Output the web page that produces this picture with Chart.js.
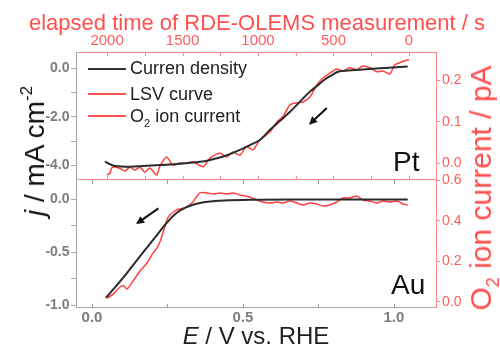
<!DOCTYPE html>
<html><head><meta charset="utf-8">
<script src="https://cdn.jsdelivr.net/npm/chart.js@4/dist/chart.umd.min.js"></script>
<style>
html,body{margin:0;padding:0;background:#fff;}
#wrap{position:relative;width:500px;height:352px;overflow:hidden;font-family:"Liberation Sans",Arial,sans-serif;}
canvas{position:absolute;left:0;top:0;}
.t{position:absolute;white-space:nowrap;line-height:1;}
.rot{transform:translate(-50%,-50%) rotate(-90deg);}
.lg{position:absolute;height:2px;width:38px;left:88px;}
</style></head><body>
<div id="wrap">
<canvas id="c1" width="500" height="352"></canvas>
<canvas id="c2" width="500" height="352"></canvas>
<div class="t" style="left:257px;top:23px;transform:translate(-50%,-50%);font-size:22px;color:#ff5050;">elapsed time of RDE-OLEMS measurement / s</div>
<div class="t rot" style="left:35px;top:151px;font-size:28px;color:#111;"><i>j</i> / mA cm<span style="font-size:17px;position:relative;top:-12px;">-2</span></div>
<div class="t rot" style="left:481px;top:188px;font-size:30px;color:#ff4d4d;">O<span style="font-size:18px;position:relative;top:8px;">2</span> ion current / pA</div>
<div class="t" style="left:256px;top:336px;transform:translate(-50%,-50%);font-size:24px;color:#222;"><i>E</i> / V vs. RHE</div>
<div class="t" style="left:393px;top:148px;font-size:28px;color:#111;">Pt</div>
<div class="t" style="left:391px;top:271px;font-size:28px;color:#111;">Au</div>
<div class="lg" style="top:68px;background:#333;"></div>
<div class="lg" style="top:93px;background:#ff5050;"></div>
<div class="lg" style="top:115px;background:#ff5050;"></div>
<div class="t" style="left:130px;top:59px;font-size:18px;color:#222;">Curren density</div>
<div class="t" style="left:130px;top:85px;font-size:18px;color:#222;">LSV curve</div>
<div class="t" style="left:130px;top:107px;font-size:18px;color:#222;">O<span style="font-size:11px;position:relative;top:5px;">2</span> ion current</div>
</div>
<script>
// ---------- data ----------
// Pt: current density (black, left axis)
const ptE_j = [0.043,0.076,0.126,0.170,0.225,0.291,0.358,0.391,0.442,0.490,0.523,0.556,0.589,0.623,0.656,0.689,0.722,0.745,0.772,0.795,0.815,0.850,0.887,0.930,0.970,1.046];
const ptJ   = [-3.84,-4.02,-4.05,-4.02,-3.98,-3.93,-3.85,-3.77,-3.60,-3.36,-3.16,-2.95,-2.54,-2.16,-1.79,-1.37,-0.96,-0.73,-0.45,-0.28,-0.14,-0.09,-0.06,-0.02,0.01,0.07];
// Pt: O2 ion current (red, right axis)
const ptE_i = [0.049,0.060,0.065,0.082,0.098,0.109,0.126,0.142,0.159,0.175,0.192,0.214,0.225,0.247,0.268,0.291,0.314,0.334,0.368,0.391,0.424,0.446,0.467,0.490,0.512,0.533,0.556,0.589,0.613,0.632,0.656,0.679,0.699,0.722,0.745,0.765,0.788,0.811,0.831,0.854,0.877,0.897,0.921,0.944,0.964,0.987,1.003,1.020,1.036,1.050];
const ptI   = [-0.029,-0.024,-0.012,-0.010,-0.015,-0.019,-0.010,-0.017,-0.010,-0.022,-0.012,-0.029,-0.007,0.015,-0.005,0.000,0.000,0.003,-0.009,0.012,0.024,0.015,0.027,0.019,0.040,0.032,0.056,0.075,0.100,0.112,0.141,0.146,0.148,0.160,0.189,0.206,0.218,0.228,0.223,0.231,0.226,0.235,0.231,0.221,0.223,0.216,0.238,0.243,0.248,0.250];
// Au: current density (black, left axis)
const auE_j = [0.046,0.076,0.109,0.142,0.175,0.209,0.242,0.275,0.308,0.358,0.424,0.523,0.689,1.046];
const auJ   = [-0.93,-0.83,-0.72,-0.60,-0.48,-0.36,-0.24,-0.14,-0.08,-0.035,-0.013,-0.005,-0.002,-0.001];
// Au: O2 ion current (red, right axis)
const auE_i = [0.050,0.070,0.093,0.106,0.116,0.136,0.159,0.182,0.202,0.215,0.225,0.235,0.248,0.258,0.281,0.315,0.334,0.358,0.381,0.401,0.424,0.447,0.467,0.490,0.523,0.546,0.566,0.589,0.613,0.632,0.656,0.679,0.699,0.722,0.745,0.765,0.788,0.811,0.831,0.854,0.877,0.897,0.921,0.944,0.964,0.987,1.010,1.030,1.046];
const auI   = [0.018,0.038,0.073,0.078,0.063,0.103,0.152,0.192,0.241,0.266,0.296,0.341,0.405,0.430,0.455,0.470,0.494,0.539,0.539,0.534,0.539,0.534,0.539,0.529,0.519,0.504,0.494,0.489,0.494,0.489,0.499,0.489,0.479,0.489,0.484,0.474,0.479,0.494,0.514,0.514,0.524,0.504,0.499,0.489,0.499,0.494,0.499,0.484,0.479];
// tick labels
const eTickLabels = [0.0, 0.5, 1.0];
const timeTickLabels = [2000, 1500, 1000, 500, 0];
const ptJTickLabels = [0.0, -2.0, -4.0];
const auJTickLabels = [0.0, -0.5, -1.0];
const seriesNames = ['Curren density', 'LSV curve', 'O\u2082 ion current'];

// ---------- helpers ----------
const pts = (xs, ys) => xs.map((x, i) => ({x, y: ys[i]}));
const FONT = '"Liberation Sans", Arial, sans-serif';
const GRAY = '#7d7d7d', GRAYLINE = '#a8a8a8', RED = '#ff5c5c', REDLINE = '#ff8a8a';
const E_MIN = -0.053, E_MAX = 1.143;
const tOf = e => (1.05 - e) * 2000;   // elapsed time corresponding to potential

const lbl = (list, digits) => (v) => list.some(l => Math.abs(l - v) < 1e-6) ? (Math.abs(v) < 1e-9 ? 0 : v).toFixed(digits) : '';

const framePlugin = {
  id: 'frame',
  afterDraw(chart, args, o) {
    const {ctx, chartArea: a} = chart;
    ctx.save(); ctx.lineWidth = 1;
    const line = (x1, y1, x2, y2, c) => { ctx.strokeStyle = c; ctx.beginPath(); ctx.moveTo(x1, y1); ctx.lineTo(x2, y2); ctx.stroke(); };
    if (o.top) line(a.left, a.top + .5, a.right, a.top + .5, o.top);
    if (o.bottom) line(a.left, a.bottom - .5, a.right, a.bottom - .5, o.bottom);
    if (o.left) line(a.left + .5, a.top, a.left + .5, a.bottom, o.left);
    if (o.right) line(a.right - .5, a.top, a.right - .5, a.bottom, o.right);
    // inward ticks for x scales
    (o.xticks || []).forEach(t => {
      const s = chart.scales[t.scale];
      s.ticks.forEach(tk => {
        const px = Math.round(s.getPixelForValue(tk.value)) + .5;
        if (px < a.left || px > a.right) return;
        t.edges.forEach(ed => {
          const y0 = ed === 'top' ? a.top : a.bottom;
          const dy = ed === 'top' ? 4 : -4;
          line(px, y0, px, y0 + dy, t.color);
        });
      });
    });
    // arrows
    (o.arrows || []).forEach(ar => {
      const xs = chart.scales.x, ys = chart.scales[ar.yAxis];
      const x1 = xs.getPixelForValue(ar.from[0]), y1 = ys.getPixelForValue(ar.from[1]);
      const x2 = xs.getPixelForValue(ar.to[0]), y2 = ys.getPixelForValue(ar.to[1]);
      const ang = Math.atan2(y2 - y1, x2 - x1), L = 8, W = 4;
      ctx.strokeStyle = '#111'; ctx.fillStyle = '#111'; ctx.lineWidth = 2;
      ctx.beginPath(); ctx.moveTo(x1, y1);
      ctx.lineTo(x2 - L * Math.cos(ang) * 0.8, y2 - L * Math.sin(ang) * 0.8); ctx.stroke();
      ctx.beginPath(); ctx.moveTo(x2, y2);
      ctx.lineTo(x2 - L * Math.cos(ang) + W * Math.sin(ang), y2 - L * Math.sin(ang) - W * Math.cos(ang));
      ctx.lineTo(x2 - L * Math.cos(ang) - W * Math.sin(ang), y2 - L * Math.sin(ang) + W * Math.cos(ang));
      ctx.closePath(); ctx.fill();
      ctx.lineWidth = 1;
    });
    ctx.restore();
  }
};

const blackDs = (label, data, yAxisID) => ({label, data, yAxisID, borderColor: '#2b2b2b', borderWidth: 2, pointRadius: 0, cubicInterpolationMode: 'monotone', fill: false});
const redDs = (label, data, yAxisID) => ({label, data, yAxisID, borderColor: '#ff4040', borderWidth: 1.5, pointRadius: 0, tension: 0.25, fill: false});

const yLeft = (min, max, step, labels, digits) => ({
  type: 'linear', position: 'left', min, max,
  border: {display: false},
  grid: {drawOnChartArea: false, drawTicks: true, tickLength: 5, color: GRAYLINE},
  ticks: {stepSize: step, includeBounds: false, autoSkip: false, padding: 1.5, color: GRAY, font: {family: FONT, size: 14, weight: 'bold'}, callback: lbl(labels, digits)},
  afterFit: s => { s.width = 76; }
});
const yRight = (min, max, step, labelFn) => ({
  type: 'linear', position: 'right', min, max,
  border: {display: false},
  grid: {drawOnChartArea: false, drawTicks: true, tickLength: 3, color: REDLINE},
  ticks: {stepSize: step, includeBounds: false, autoSkip: false, padding: 2, color: RED, font: {family: FONT, size: 14}, callback: labelFn},
  afterFit: s => { s.width = 63; }
});

// ---------- top chart: Pt ----------
new Chart(document.getElementById('c1'), {
  type: 'line',
  data: {datasets: [
    blackDs(seriesNames[0], pts(ptE_j, ptJ), 'yJ'),
    redDs(seriesNames[2], pts(ptE_i, ptI), 'yI')
  ]},
  options: {
    responsive: false, animation: false, devicePixelRatio: 1,
    layout: {padding: {left: 0, right: 0, top: 0, bottom: 172}},
    plugins: {legend: {display: false}, tooltip: {enabled: false},
      frame: {top: REDLINE, bottom: REDLINE, left: GRAYLINE, right: REDLINE,
        xticks: [{scale: 'xT', color: REDLINE, edges: ['top', 'bottom']}],
        arrows: [{from: [0.778, -1.63], to: [0.719, -2.32], yAxis: 'yJ'}]}},
    scales: {
      x: {type: 'linear', min: E_MIN, max: E_MAX, display: false},
      xT: {type: 'linear', position: 'top', reverse: true, min: tOf(E_MAX), max: tOf(E_MIN),
        border: {display: false},
        grid: {drawOnChartArea: false, drawTicks: false, color: REDLINE},
        ticks: {stepSize: 250, includeBounds: false, autoSkip: false, maxRotation: 0, padding: 2.5, color: RED, font: {family: FONT, size: 15},
          callback: v => timeTickLabels.includes(v) ? String(v) : ''},
        afterFit: s => { s.height = 52; }
      },
      yJ: yLeft(-4.597, 0.671, 1, ptJTickLabels, 1),
      yI: yRight(-0.041, 0.269, 0.1, v => (Math.abs(v) < 1e-9 ? 0 : v).toFixed(1))
    }
  },
  plugins: [framePlugin]
});

// ---------- bottom chart: Au ----------
new Chart(document.getElementById('c2'), {
  type: 'line',
  data: {datasets: [
    blackDs(seriesNames[0], pts(auE_j, auJ), 'yJ'),
    redDs(seriesNames[1], pts(auE_i, auI), 'yI')
  ]},
  options: {
    responsive: false, animation: false, devicePixelRatio: 1,
    layout: {padding: {left: 0, right: 0, top: 180, bottom: 0}},
    plugins: {legend: {display: false}, tooltip: {enabled: false},
      frame: {bottom: GRAYLINE, left: GRAYLINE, right: REDLINE,
        xticks: [{scale: 'x', color: '#999', edges: ['top', 'bottom']}],
        arrows: [{from: [0.220, -0.085], to: [0.146, -0.233], yAxis: 'yJ'}]}},
    scales: {
      x: {type: 'linear', position: 'bottom', min: E_MIN, max: E_MAX,
        border: {display: false},
        grid: {drawOnChartArea: false, drawTicks: false, color: GRAYLINE},
        ticks: {stepSize: 0.25, includeBounds: false, autoSkip: false, maxRotation: 0, padding: 1, color: GRAY, font: {family: FONT, size: 15, weight: 'bold'},
          callback: lbl(eTickLabels, 1)},
        afterFit: s => { s.height = 44; }
      },
      yJ: yLeft(-1.025, 0.182, 0.25, auJTickLabels, 1),
      yI: yRight(-0.031, 0.603, 0.2, v => (Math.abs(v) < 1e-9 ? 0 : v).toFixed(1))
    }
  },
  plugins: [framePlugin]
});
</script>
</body></html>
